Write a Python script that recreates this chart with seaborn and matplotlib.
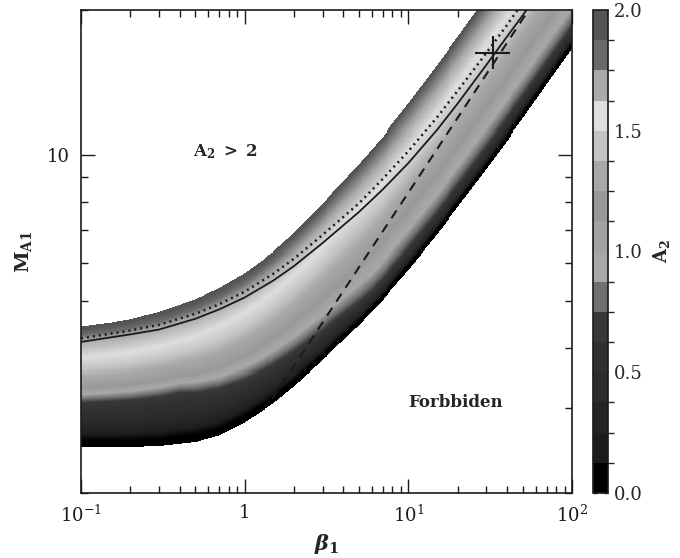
import numpy as np
import matplotlib
matplotlib.use('Agg')
import matplotlib.pyplot as plt
import matplotlib.ticker as mticker
from matplotlib.colors import ListedColormap, LinearSegmentedColormap, BoundaryNorm
import seaborn as sns

# Edges of the allowed band (beta_1 -> M_A1)
beta_edge = [0.1, 0.15, 0.2, 0.3, 0.5, 0.7, 1, 1.5, 2, 3, 5, 7, 10, 15, 20, 30, 50, 70, 100]
ma_top = [4.42, 4.50, 4.58, 4.74, 5.04, 5.32, 5.71, 6.32, 6.90, 7.95, 9.60, 10.96,
          12.8, 15.4, 17.6, 21.4, 27.3, 32.2, 38.4]                       # A2 = 2
ma_bottom = [2.49, 2.49, 2.49, 2.50, 2.55, 2.63, 2.80, 3.07, 3.33, 3.77, 4.45, 5.03,
             5.79, 6.86, 7.80, 9.38, 11.9, 14.04, 16.7]                   # A2 = 0

# A2 across the band: position as fraction of band width (bottom -> top),
# once on the low-beta side and once on the high-beta side
prof_a2 = [0.0, 0.06, 0.31, 0.56, 0.69, 0.81, 0.94, 1.19, 1.31, 1.44, 1.56, 1.69, 1.81, 2.0]
frac_low = [0.0, 0.05, 0.15, 0.30, 0.37, 0.40, 0.44, 0.49, 0.58, 0.65, 0.74, 0.88, 0.93, 1.0]
frac_high = [0.0, 0.03, 0.06, 0.10, 0.13, 0.17, 0.24, 0.36, 0.50, 0.60, 0.72, 0.85, 0.95, 1.0]
beta_prof = [0.4, 6.0]

# grey table of the colour bar, A2 = 0 .. 2 in steps of 0.125
greys = [0x00, 0x1c, 0x24, 0x2c, 0x30, 0x38, 0x70, 0xa8,
         0xa2, 0x98, 0xa8, 0xc4, 0xde, 0xaa, 0x6a, 0x55]

# curves
beta_solid = [0.1, 0.2, 0.3, 0.5, 0.7, 1, 1.5, 2, 3, 5, 7, 10, 15, 20, 30, 40, 50, 55]
ma_solid = [4.11, 4.26, 4.36, 4.59, 4.80, 5.08, 5.51, 5.90, 6.59, 7.64, 8.51, 9.64,
            11.3, 12.8, 15.4, 17.6, 19.5, 20.4]
beta_dot = [0.1, 0.2, 0.3, 0.5, 0.7, 1, 1.5, 2, 3, 5, 7, 10, 15, 20, 30, 40, 45, 48]
ma_dot = [4.18, 4.34, 4.46, 4.70, 4.92, 5.22, 5.69, 6.11, 6.85, 7.96, 8.95, 10.2,
          12.0, 13.6, 16.3, 18.6, 19.7, 20.3]
beta_dash = [1.47, 5, 10, 53.8]
ma_dash = [3.13, 5.87, 8.37, 19.9]

# measured point with error bars
obs_beta, obs_beta_lo, obs_beta_hi = 32.7, 25.5, 41.8
obs_ma, obs_ma_lo, obs_ma_hi = 16.3, 15.1, 17.7

sns.set_theme(style='ticks')
plt.rcParams['font.family'] = ['DejaVu Serif']
plt.rcParams['mathtext.fontset'] = 'dejavuserif'

fig = plt.figure(figsize=(6.8, 5.58), dpi=100)
ax = fig.add_axes([81/680, 1-493/558, 491/680, 483/558])
cax = fig.add_axes([593/680, 1-493/558, 15/680, 483/558])

# field
lb = np.linspace(-1, 2, 500)
lm = np.linspace(np.log10(2), np.log10(20), 480)
lo = np.interp(lb, np.log10(beta_edge), np.log10(ma_bottom))
hi = np.interp(lb, np.log10(beta_edge), np.log10(ma_top))
t = np.clip((lb - np.log10(beta_prof[0])) / (np.log10(beta_prof[1]) - np.log10(beta_prof[0])), 0, 1)
a2 = np.zeros((lm.size, lb.size))
inside = np.zeros_like(a2, dtype=bool)
for j in range(lb.size):
    frac = (lm - lo[j]) / (hi[j] - lo[j])
    nodes = (1 - t[j]) * np.array(frac_low) + t[j] * np.array(frac_high)
    a2[:, j] = np.interp(frac, nodes, prof_a2)
    inside[:, j] = (frac >= 0) & (frac <= 1)
a2 = np.ma.masked_where(~inside, a2)

cols = [(g/255, g/255, g/255) for g in greys]
pos = [0.0] + [(i + 0.5)/16 for i in range(16)] + [1.0]
smooth = LinearSegmentedColormap.from_list('a2', list(zip(pos, [cols[0]] + cols + [cols[-1]])))
ax.pcolormesh(10**lb, 10**lm, a2, cmap=smooth, vmin=0, vmax=2, shading='nearest')

sns.lineplot(x=beta_solid, y=ma_solid, color='k', lw=1.3, ax=ax)
sns.lineplot(x=beta_dot, y=ma_dot, color='k', lw=1.8, linestyle=(0, (0.8, 1.6)), ax=ax)
sns.lineplot(x=beta_dash, y=ma_dash, color='k', lw=1.5, linestyle=(0, (4.5, 3.5)), ax=ax)
ax.errorbar(obs_beta, obs_ma,
            xerr=[[obs_beta - obs_beta_lo], [obs_beta_hi - obs_beta]],
            yerr=[[obs_ma - obs_ma_lo], [obs_ma_hi - obs_ma]],
            fmt='none', ecolor='k', elinewidth=1.5, capsize=0)

ax.set_xscale('log')
ax.set_yscale('log')
ax.set_xlim(0.1, 100)
ax.set_ylim(2, 20)

ax.xaxis.set_major_locator(mticker.FixedLocator([0.1, 1, 10, 100]))
ax.xaxis.set_major_formatter(mticker.FixedFormatter([r'$10^{-1}$', '1', r'$10^{1}$', r'$10^{2}$']))
ax.xaxis.set_minor_locator(mticker.LogLocator(base=10, subs=np.arange(2, 10)))
ax.xaxis.set_minor_formatter(mticker.NullFormatter())
ax.yaxis.set_major_locator(mticker.FixedLocator([10]))
ax.yaxis.set_major_formatter(mticker.FixedFormatter(['10']))
ax.yaxis.set_minor_locator(mticker.LogLocator(base=10, subs=np.arange(2, 10)))
ax.yaxis.set_minor_formatter(mticker.NullFormatter())

ax.tick_params(which='both', direction='in', top=True, right=True, width=1, colors='k', labelsize=13)
ax.tick_params(which='major', length=10, pad=8)
ax.tick_params(which='minor', length=5)
for s in ax.spines.values():
    s.set_linewidth(1.2)
    s.set_color('k')

ax.set_xlabel(r'$\mathbfit{\beta}_{\mathbf{1}}$', fontsize=15, labelpad=5)
ax.set_ylabel(r'$\mathbf{M_{A1}}$', fontsize=14, labelpad=9)

ax.text(0.76, 10.2, r'$\mathbf{A_2}$ $\mathbf{>}$ $\mathbf{2}$', fontsize=12, ha='center', va='center')
ax.text(19.3, 3.08, 'Forbbiden', fontsize=12, fontweight='bold', ha='center', va='center')

# colour bar
sm = plt.cm.ScalarMappable(norm=BoundaryNorm(np.linspace(0, 2, 17), 16), cmap=ListedColormap(cols))
cb = fig.colorbar(sm, cax=cax, ticks=[0, 0.5, 1.0, 1.5, 2.0], format='%.1f')
cb.outline.set_linewidth(1.2)
cb.outline.set_edgecolor('k')
cax.tick_params(direction='in', left=True, right=True, length=3, width=1, labelsize=13, pad=4)
cb.set_label(r'$\mathbf{A_2}$', fontsize=13, labelpad=6)

fig.savefig('out.png', dpi=100)
